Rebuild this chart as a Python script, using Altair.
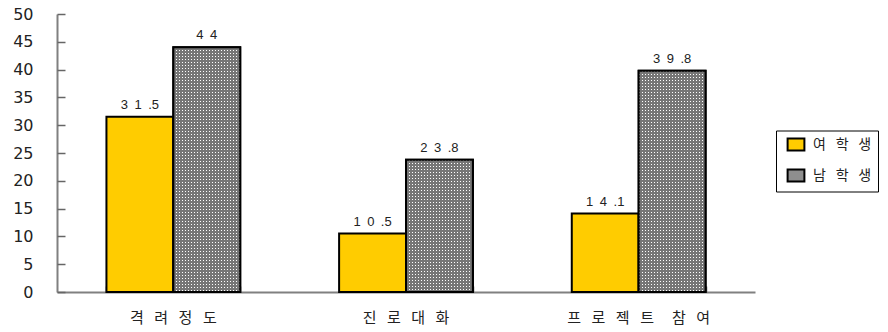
import altair as alt

# ---- data -------------------------------------------------------------
categories = ["격려정도", "진로대화", "프로젝트 참여"]
series = ["여학생", "남학생"]
female = [31.5, 10.5, 14.1]
male = [44, 23.8, 39.8]
y_ticks = list(range(0, 51, 5))

# ---- styling constants --------------------------------------------------
YELLOW = "#FFCC00"
GREY = "#767676"
LEGEND_GREY = "#8e8e8e"
CLEAR = "rgba(255,255,255,0)"
AXIS_GREY = "#808080"
KR_FONT = "Noto Sans CJK KR"
W, H = 698, 278
Y_MAX = 50

CHAR_GAP = "\u2002\u2009"   # wide letter spacing used for Korean labels
WORD_GAP = CHAR_GAP + "\u2002"
DIGIT_GAP = "\u2002"


def spaced_kr(text, tail=""):
    words = text.split(" ")
    return WORD_GAP.join(CHAR_GAP.join(list(w)) for w in words) + tail


def spaced_num(v):
    s = f"{v:g}"
    out = ""
    for i, ch in enumerate(s):
        out += ch
        if i < len(s) - 1 and ch != ".":
            out += DIGIT_GAP
    return out


def stripes(length, horizontal, period=3.0, gap=1.1):
    """Linear gradient of grey bands with clear gaps every `period` px."""
    stops = []
    k = 0
    while k * period < length:
        a = k * period / length
        b = min((k * period + gap) / length, 1.0)
        c = min((k + 1) * period / length, 1.0)
        stops += [
            {"offset": a, "color": CLEAR},
            {"offset": b, "color": CLEAR},
            {"offset": b, "color": GREY},
            {"offset": c, "color": GREY},
        ]
        k += 1
    return {
        "gradient": "linear",
        "x1": 0, "y1": 0,
        "x2": 1 if horizontal else 0,
        "y2": 0 if horizontal else 1,
        "stops": stops,
    }


cat_labels = [spaced_kr(c) for c in categories]
# trailing gap keeps the legend frame running out to the right edge
ser_labels = [spaced_kr(s, tail=CHAR_GAP) for s in series]

records = []
for c, f, m in zip(cat_labels, female, male):
    records.append({"cat": c, "ser": ser_labels[0], "value": f,
                    "label": spaced_num(f), "gy": None})
    records.append({"cat": c, "ser": ser_labels[1], "value": m,
                    "label": spaced_num(m),
                    "gy": stripes(m * H / Y_MAX, horizontal=False)})

data = alt.Data(values=records)

step = W / len(categories)
band_w = step * 0.575 / 2

x_scale = alt.Scale(domain=cat_labels, paddingInner=0.425, paddingOuter=0.2125)
off_scale = alt.Scale(domain=ser_labels, paddingInner=0, paddingOuter=0)
y_scale = alt.Scale(domain=[0, Y_MAX], nice=False, zero=True)

x_main_axis = alt.Axis(
    title=None, labelAngle=0, ticks=False, domain=True, domainColor=AXIS_GREY,
    domainWidth=2, labelFont=KR_FONT, labelFontSize=15, labelColor="#222",
    labelPadding=18, grid=False,
)
y_main_axis = alt.Axis(
    title=None, values=y_ticks, ticks=False, tickSize=0, domain=True,
    domainColor=AXIS_GREY, domainWidth=2, labelFont="DejaVu Sans",
    labelFontSize=16, labelColor="#222", labelPadding=24, grid=False,
)
# tick-only axes laid over the domain lines so the ticks point inward
x_tick_axis = alt.Axis(
    title=None, orient="top", offset=-H, labels=False, domain=False,
    ticks=True, tickBand="extent", tickSize=6, tickColor="#666",
    tickWidth=1.5, grid=False,
)
y_tick_axis = alt.Axis(
    title=None, orient="right", offset=-W, values=y_ticks, labels=False,
    domain=False, ticks=True, tickSize=8, tickColor="#666", tickWidth=1.5,
    grid=False,
)

base = alt.Chart(data)

bars = base.mark_bar(stroke="black", strokeWidth=2, opacity=1).encode(
    x=alt.X("cat:N", sort=cat_labels, scale=x_scale, axis=x_main_axis),
    xOffset=alt.XOffset("ser:N", sort=ser_labels, scale=off_scale),
    y=alt.Y("value:Q", scale=y_scale, axis=y_main_axis),
    color=alt.Color(
        "ser:N", sort=ser_labels,
        scale=alt.Scale(domain=ser_labels, range=[YELLOW, LEGEND_GREY]),
        legend=alt.Legend(
            title=None, orient="none", legendX=719, legendY=116.5,
            direction="vertical", fillColor="white", strokeColor="black",
            padding=6, rowPadding=11,
            symbolType="M-1.2,-0.85H1.2V0.85H-1.2Z", symbolSize=196,
            symbolOffset=6, symbolStrokeColor="black", symbolStrokeWidth=2,
            symbolOpacity=1, labelFont=KR_FONT, labelFontSize=14,
            labelOffset=9, labelColor="#222",
        ),
    ),
)

male_only = base.transform_filter(alt.datum.ser == ser_labels[1])
enc_common = dict(
    x=alt.X("cat:N", sort=cat_labels, scale=x_scale, axis=None),
    xOffset=alt.XOffset("ser:N", sort=ser_labels, scale=off_scale),
    y=alt.Y("value:Q", scale=y_scale, axis=None),
)

dot_white = male_only.mark_bar(fill="white", strokeWidth=0).encode(**enc_common)
dot_rows = male_only.mark_bar(strokeWidth=0).encode(
    fill=alt.Fill("gy:N", scale=None, legend=None), **enc_common
)
dot_cols = male_only.mark_bar(strokeWidth=0).encode(
    fill=alt.value(stripes(band_w, horizontal=True)), **enc_common
)
outline = male_only.mark_bar(
    fillOpacity=0, stroke="black", strokeWidth=2
).encode(**enc_common)

labels = base.mark_text(
    font="Liberation Sans", fontSize=13, color="#222", dy=-8,
    baseline="alphabetic",
).encode(
    x=alt.X("cat:N", sort=cat_labels, scale=x_scale, axis=x_tick_axis),
    xOffset=alt.XOffset("ser:N", sort=ser_labels, scale=off_scale),
    y=alt.Y("value:Q", scale=y_scale, axis=y_tick_axis),
    text="label:N",
)

chart = (
    alt.layer(bars, dot_white, dot_rows, dot_cols, outline, labels)
    .resolve_axis(x="independent", y="independent")
    .properties(
        width=W, height=H, autosize="none",
        padding={"left": 57, "top": 14, "right": 133, "bottom": 40},
        background="white",
    )
    .configure_view(stroke=None)
)

chart.save("out.html", embed_options={"renderer": "svg", "actions": False})
